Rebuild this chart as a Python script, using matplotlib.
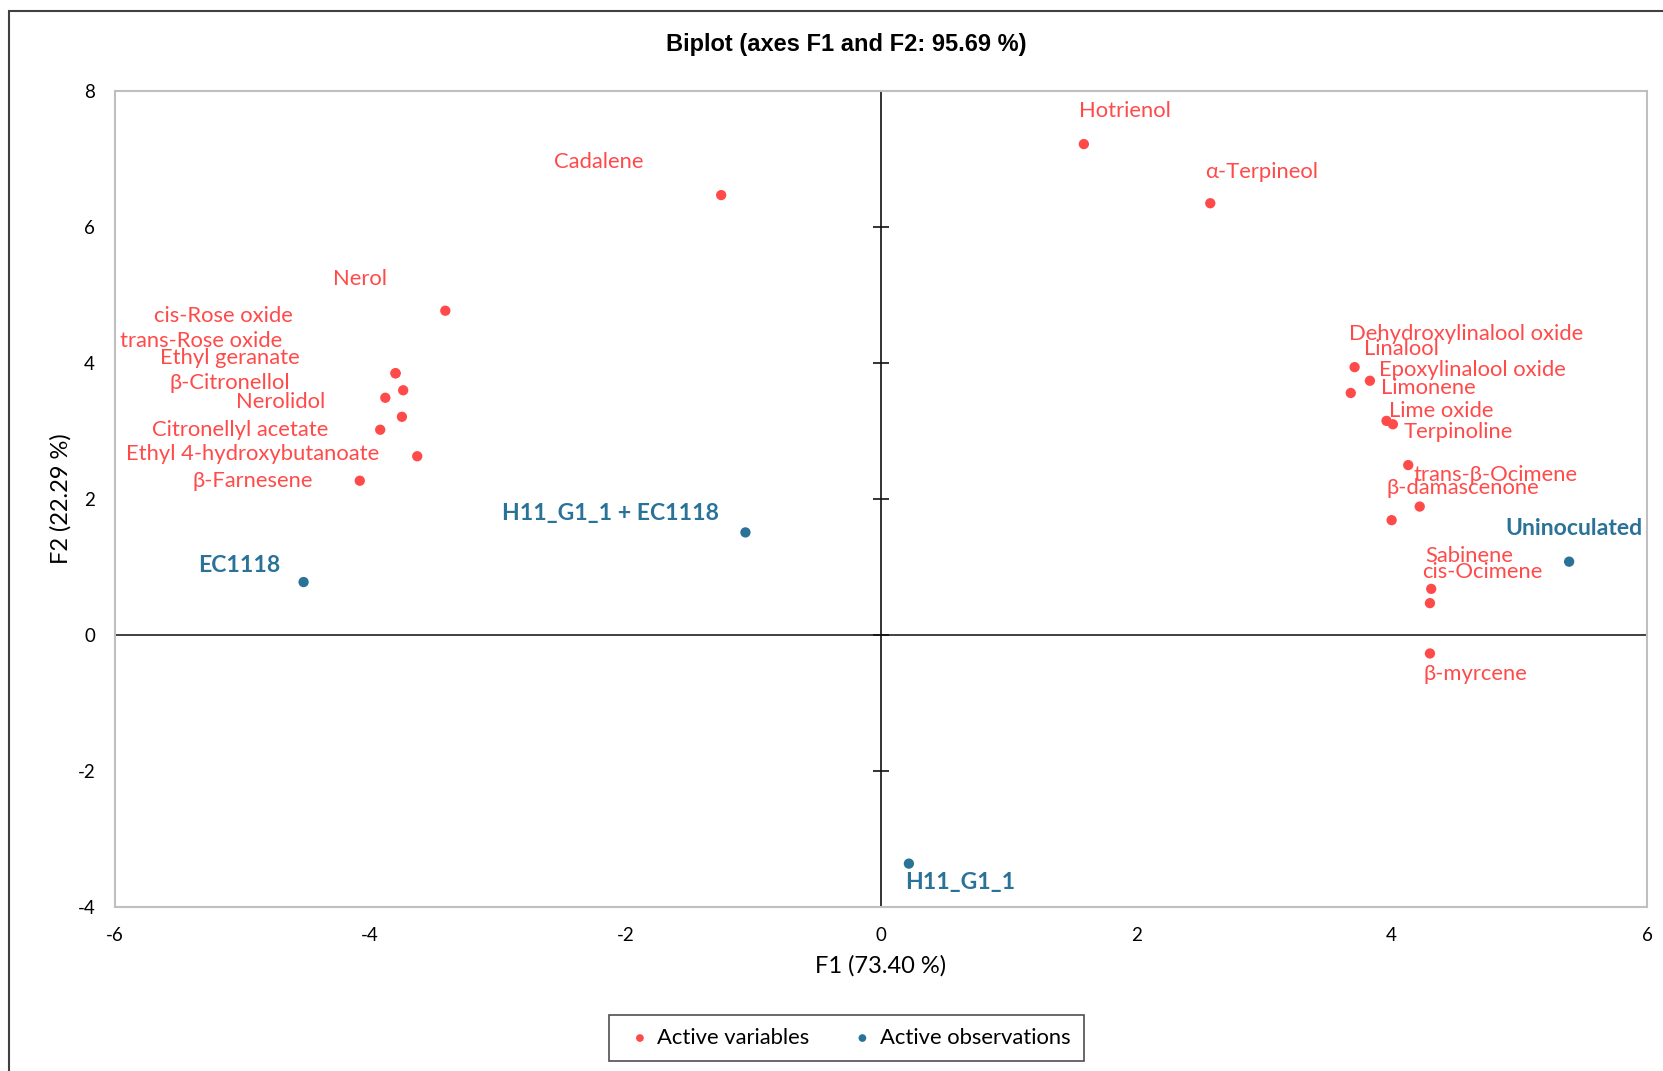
import matplotlib
matplotlib.use("Agg")
import matplotlib.pyplot as plt
from matplotlib.patches import Rectangle

plt.rcParams['axes.unicode_minus'] = False

# PCA biplot: variable loadings (red) and observation scores (blue)
var_names = [
    'Cadalene', 'Hotrienol', 'α-Terpineol', 'Nerol',
    'cis-Rose oxide', 'trans-Rose oxide', 'Ethyl geranate', 'β-Citronellol',
    'Nerolidol', 'Citronellyl acetate', 'Ethyl 4-hydroxybutanoate', 'β-Farnesene',
    'Dehydroxylinalool oxide', 'Linalool', 'Epoxylinalool oxide', 'Limonene',
    'Lime oxide', 'Terpinoline', 'trans-β-Ocimene', 'β-damascenone',
    'Sabinene', 'cis-Ocimene', 'β-myrcene',
]
var_f1 = [-1.25, 1.59, 2.58, -3.41,
          -3.80, -3.80, -3.74, -3.88,
          -3.75, -3.92, -3.63, -4.08,
          3.71, 3.83, 3.68, 3.96,
          4.01, 4.13, 4.22, 4.00,
          4.31, 4.30, 4.30]
var_f2 = [6.47, 7.22, 6.35, 4.77,
          3.85, 3.85, 3.60, 3.49,
          3.21, 3.02, 2.63, 2.27,
          3.94, 3.74, 3.56, 3.15,
          3.10, 2.50, 1.89, 1.69,
          0.68, 0.47, -0.27]

obs_names = ['EC1118', 'H11_G1_1 + EC1118', 'H11_G1_1', 'Uninoculated']
obs_f1 = [-4.52, -1.06, 0.22, 5.39]
obs_f2 = [0.78, 1.51, -3.36, 1.08]

# where each label sits (centre of text, in F1/F2 units)
var_label_xy = [
    (-2.21, 6.95), (1.91, 7.70), (2.98, 6.81), (-4.08, 5.24),
    (-5.15, 4.69), (-5.32, 4.32), (-5.10, 4.07), (-5.10, 3.71),
    (-4.70, 3.43), (-5.02, 3.01), (-4.92, 2.66), (-4.92, 2.26),
    (4.58, 4.43), (4.08, 4.21), (4.63, 3.90), (4.29, 3.63),
    (4.39, 3.29), (4.52, 2.98), (4.81, 2.35), (4.56, 2.16),
    (4.61, 1.17), (4.71, 0.93), (4.66, -0.57),
]
obs_label_xy = [(-5.02, 1.02), (-2.12, 1.79), (0.62, -3.64), (5.43, 1.57)]

red = '#ff4a4a'
blue = '#2b7298'
label_font = ['Lato', 'DejaVu Sans']

fig = plt.figure(figsize=(16.63, 10.71), dpi=100)
ax = fig.add_axes([0.0689, 0.153, 0.9215, 0.762])

ax.set_xlim(-6, 6)
ax.set_ylim(-4, 8)
xticks = [-6, -4, -2, 0, 2, 4, 6]
yticks = [-4, -2, 0, 2, 4, 6, 8]
ax.set_xticks(xticks)
ax.set_yticks(yticks)
ax.tick_params(length=0, pad=14, labelsize=13.5)
for lab in ax.get_xticklabels() + ax.get_yticklabels():
    lab.set_family(label_font)
for s in ax.spines.values():
    s.set_color('#bfbfbf')
    s.set_linewidth(1.5)

# zero axes; the vertical one carries small cross ticks
ax.axhline(0, color='#404040', lw=1.4, zorder=1)
ax.axvline(0, color='#111111', lw=1.2, zorder=1)
ax.plot([0] * len(yticks), yticks, ls='none', marker='_', ms=11, mew=1.2,
        color='#111111', clip_on=False, zorder=1)

ax.scatter(var_f1, var_f2, s=55, color=red, zorder=3, label='Active variables',
           edgecolors='none')
ax.scatter(obs_f1, obs_f2, s=55, color=blue, zorder=3, label='Active observations',
           edgecolors='none')

for name, (lx, ly) in zip(var_names, var_label_xy):
    ax.text(lx, ly, name, color=red, fontsize=15.8, ha='center', va='center',
            family=label_font, zorder=4)
for name, (lx, ly) in zip(obs_names, obs_label_xy):
    ax.text(lx, ly, name, color=blue, fontsize=16.6, ha='center', va='center',
            family=label_font, fontweight='bold', zorder=4, clip_on=False)

ax.set_xlabel('F1 (73.40 %)', fontsize=17, family=label_font, labelpad=8)
ax.set_ylabel('F2 (22.29 %)', fontsize=17, family=label_font, labelpad=4)

fig.text(0.509, 0.958, 'Biplot (axes F1 and F2: 95.69 %)', ha='center', va='center',
         fontsize=17, fontweight='bold', family='Liberation Sans')

leg = fig.legend(loc='center', bbox_to_anchor=(0.509, 0.031), ncol=2,
                 frameon=True, fancybox=False, markerscale=0.75,
                 handletextpad=0.0, handlelength=1.6, columnspacing=1.6,
                 borderpad=0.6, borderaxespad=0.0,
                 prop={'family': label_font, 'size': 15.8})
leg.get_frame().set_edgecolor('#222222')
leg.get_frame().set_linewidth(1.2)

# outer chart frame
fig.patches.append(Rectangle((9 / 1663, -0.1), 1.2, 1.1 - 11 / 1071,
                             transform=fig.transFigure, fill=False,
                             edgecolor='#404040', lw=1.5))

fig.savefig('out.png', dpi=100)
